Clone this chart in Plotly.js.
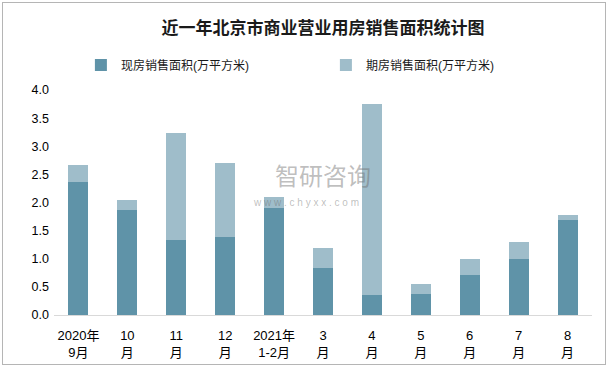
<!DOCTYPE html>
<html>
<head>
<meta charset="utf-8">
<script src="https://cdn.plot.ly/plotly-3.0.1.min.js"></script>
<style>
html,body{margin:0;padding:0;background:#fff;}
#wrap{position:absolute;left:2px;top:2px;width:604px;height:363px;border:1px solid #b5b5b5;box-sizing:border-box;}
#chart{position:absolute;left:0;top:0;width:612px;height:370px;}
</style>
</head>
<body>
<div id="wrap"></div>
<div id="chart"></div>
<script>
const categories = ["2020年<br>9月","10<br>月","11<br>月","12<br>月","2021年<br>1-2月","3<br>月","4<br>月","5<br>月","6<br>月","7<br>月","8<br>月"];
const xianfang = [2.37, 1.87, 1.34, 1.39, 1.91, 0.84, 0.36, 0.38, 0.72, 1.00, 1.69];
const qifang = [0.30, 0.18, 1.90, 1.32, 0.19, 0.36, 3.40, 0.18, 0.28, 0.30, 0.09];
const yTicks = [0, 0.5, 1, 1.5, 2, 2.5, 3, 3.5, 4];

const fam = "Liberation Sans, Arial, Noto Sans CJK SC, sans-serif";

const data = [
  {type:"bar", name:"现房销售面积(万平方米)", x:categories, y:xianfang,
   marker:{color:"#5f93a8"}, hoverinfo:"none"},
  {type:"bar", name:"期房销售面积(万平方米)", x:categories, y:qifang,
   marker:{color:"#9fbdca"}, hoverinfo:"none"}
];

const layout = {
  width:612, height:370,
  paper_bgcolor:"rgba(0,0,0,0)", plot_bgcolor:"rgba(0,0,0,0)",
  margin:{l:53.5, r:19.5, t:90, b:54.5},
  barmode:"stack", bargap:0.59,
  font:{family:fam, size:12, color:"#000"},
  title:{text:"<b>近一年北京市商业营业用房销售面积统计图</b>",
         font:{family:"Noto Sans CJK SC, sans-serif", size:17, color:"#1a1a1a"},
         x:0.5, xref:"paper", y:0.925, yref:"container", xanchor:"center", yanchor:"middle"},
  showlegend:true,
  legend:{orientation:"h", x:0.05, xanchor:"left", y:1.111, yanchor:"middle",
          font:{family:fam, size:12, color:"#1a1a1a"},
          entrywidth:200, entrywidthmode:"pixels", itemwidth:30, traceorder:"normal",
          bgcolor:"rgba(0,0,0,0)"},
  xaxis:{type:"category", showgrid:false, showline:true, linecolor:"#d9d9d9", linewidth:1,
         ticks:"", ticklabelstandoff:8, tickfont:{family:fam, size:13, color:"#000"}, fixedrange:true},
  yaxis:{range:[0,4], tickvals:yTicks, ticktext:yTicks.map(v=>v.toFixed(1)),
         showgrid:false, zeroline:false, showline:false, ticks:"", ticklabelstandoff:4,
         tickfont:{family:fam, size:12.5, color:"#000"}, fixedrange:true},
  annotations:[
    {text:"智研咨询", x:0.5, xref:"paper", y:0.625, yref:"paper", showarrow:false,
     font:{family:"Noto Sans CJK SC, sans-serif", size:24, color:"rgba(110,110,110,0.45)"}},
    {text:"w w w . c h y x x . c o m", x:0.5, xref:"paper", y:0.5, yref:"paper", showarrow:false, xshift:-17,
     font:{family:fam, size:10, color:"rgba(110,110,110,0.45)"}}
  ]
};

Plotly.newPlot("chart", data, layout, {displayModeBar:false, staticPlot:true});
</script>
</body>
</html>
